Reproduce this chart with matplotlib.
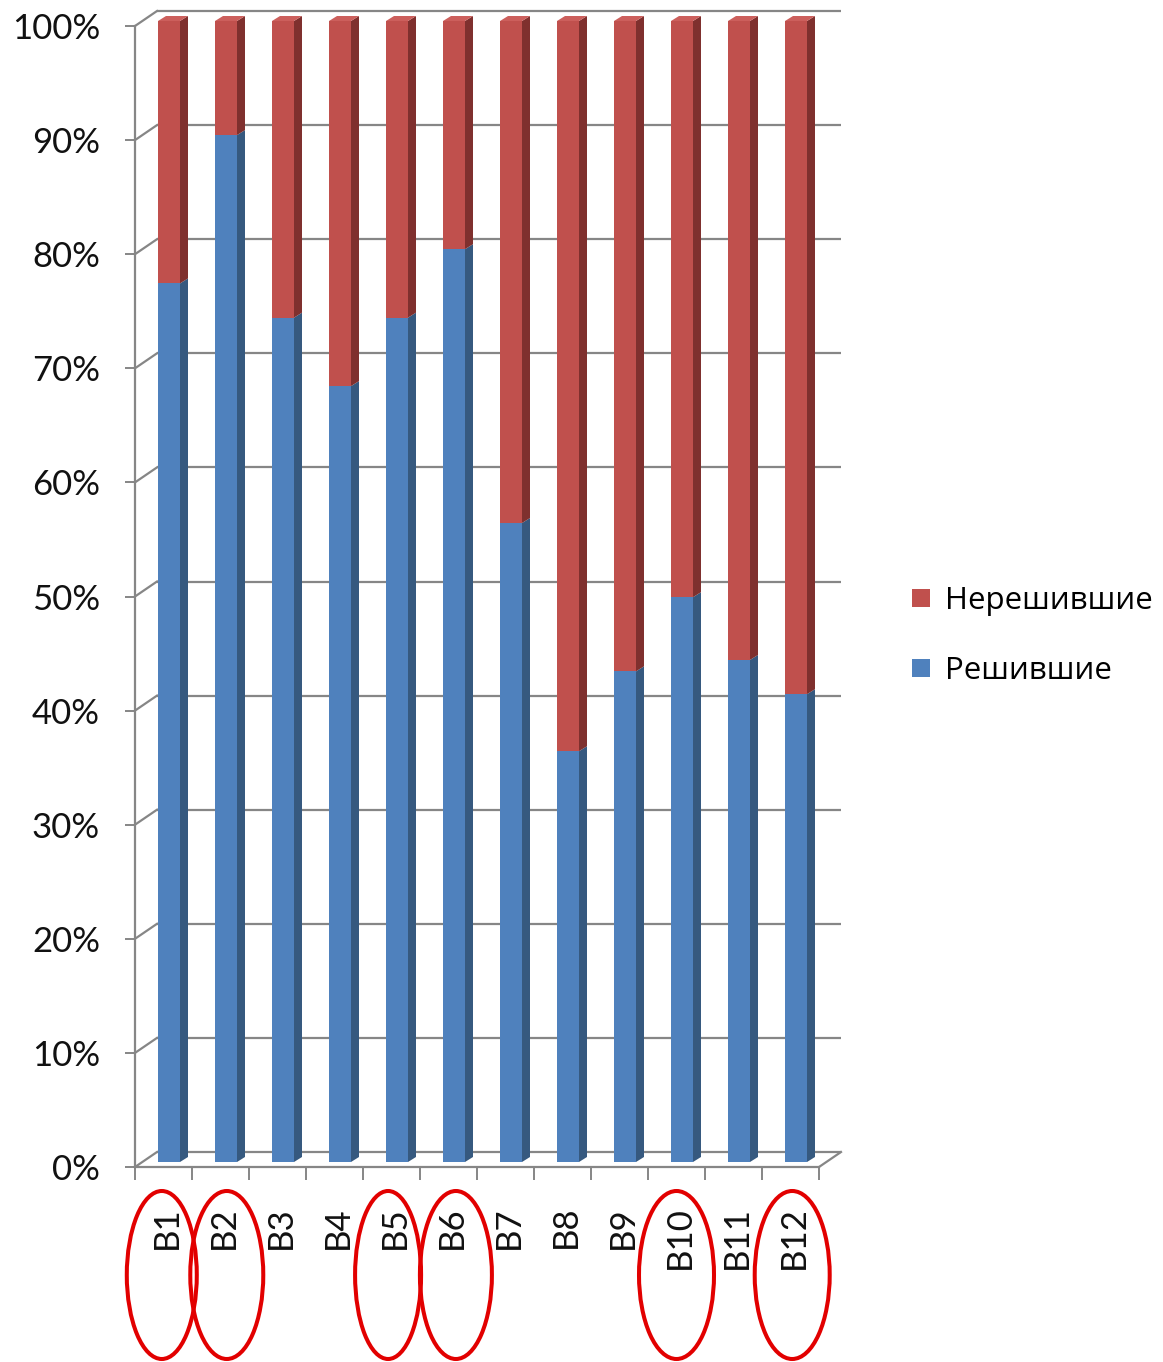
import matplotlib
matplotlib.use("Agg")
import matplotlib.pyplot as plt
from matplotlib.patches import Polygon, Ellipse
from matplotlib.lines import Line2D
from matplotlib.transforms import offset_copy, blended_transform_factory

# ---------------- data ----------------
categories = ["B1", "B2", "B3", "B4", "B5", "B6", "B7", "B8", "B9", "B10", "B11", "B12"]
solved = [77, 90, 74, 68, 74, 80, 56, 36, 43, 49.5, 44, 41]          # Решившие, %
unsolved = [23, 10, 26, 32, 26, 20, 44, 64, 57, 50.5, 56, 59]        # Нерешившие, %
series_labels = ["Решившие", "Нерешившие"]
y_ticks = [0, 10, 20, 30, 40, 50, 60, 70, 80, 90, 100]
y_tick_labels = ["0%", "10%", "20%", "30%", "40%", "50%", "60%", "70%", "80%", "90%", "100%"]
highlighted = ["B1", "B2", "B5", "B6", "B10", "B12"]

# ---------------- style ----------------
W, H, DPI = 1163, 1362, 100
BLUE, BLUE_SIDE = "#4F81BD", "#36597F"
RED, RED_SIDE, RED_TOP = "#C0504D", "#7F302E", "#CC5F5C"
GRID = "#868686"
FONT = ["Lato", "Open Sans", "DejaVu Sans"]
LEG_FONT = ["Open Sans", "DejaVu Sans"]
plt.rcParams["font.family"] = FONT

fig = plt.figure(figsize=(W / DPI, H / DPI), dpi=DPI)
ax_l, ax_r, ax_t, ax_b = 135, 819, 26, 1167
ax = fig.add_axes([ax_l / W, (H - ax_b) / H, (ax_r - ax_l) / W, (ax_b - ax_t) / H])
n = len(categories)
ax.set_xlim(-0.5, n - 0.5)
ax.set_ylim(0, 100)

# pixel -> data conversion
px_x = n / (ax_r - ax_l)
px_y = 100 / (ax_b - ax_t)

# back wall grid (offset in depth)
gdx, gdy = 22, 15
tr_grid = offset_copy(ax.transData, fig=fig, x=gdx, y=gdy, units="dots")
for v in y_ticks:
    ax.plot([-0.5, n - 0.5], [v, v], color=GRID, lw=1.6, transform=tr_grid,
            zorder=1, clip_on=False, solid_capstyle="butt")
    ax.plot([-0.5, -0.5 + gdx * px_x], [v, v + gdy * px_y], color=GRID, lw=1.6,
            zorder=1, clip_on=False)
ax.plot([n - 0.5, n - 0.5 + gdx * px_x], [0, gdy * px_y], color=GRID, lw=1.6,
        zorder=1, clip_on=False)

# bars (front face offset into middle depth)
bdx, bdy = 5.5, 5
sdx, sdy = 8, 5
bw = 22 * px_x
tr_bar = offset_copy(ax.transData, fig=fig, x=bdx, y=bdy, units="dots")
xs = list(range(n))
ax.bar(xs, solved, width=bw, color=BLUE, transform=tr_bar, zorder=3,
       label=series_labels[0], clip_on=False)
ax.bar(xs, unsolved, width=bw, bottom=solved, color=RED, transform=tr_bar, zorder=3,
       label=series_labels[1], clip_on=False)
for x, s, u in zip(xs, solved, unsolved):
    xr = x + bw / 2
    xl = x - bw / 2
    top = s + u
    ax.add_patch(Polygon([(xr, 0), (xr + sdx * px_x, sdy * px_y),
                          (xr + sdx * px_x, s + sdy * px_y), (xr, s)],
                         closed=True, color=BLUE_SIDE, transform=tr_bar, zorder=3,
                         clip_on=False, lw=0))
    ax.add_patch(Polygon([(xr, s), (xr + sdx * px_x, s + sdy * px_y),
                          (xr + sdx * px_x, top + sdy * px_y), (xr, top)],
                         closed=True, color=RED_SIDE, transform=tr_bar, zorder=3,
                         clip_on=False, lw=0))
    ax.add_patch(Polygon([(xl, top), (xl + sdx * px_x, top + sdy * px_y),
                          (xr + sdx * px_x, top + sdy * px_y), (xr, top)],
                         closed=True, color=RED_TOP, transform=tr_bar, zorder=3,
                         clip_on=False, lw=0))

# axes, ticks
for side in ("top", "right"):
    ax.spines[side].set_visible(False)
for side in ("left", "bottom"):
    ax.spines[side].set_color(GRID)
    ax.spines[side].set_linewidth(1.6)
    ax.spines[side].set_zorder(2)
ax.set_yticks(y_ticks)
ax.set_yticklabels(y_tick_labels)
ax.tick_params(axis="y", length=7.2, width=1.4, color=GRID, pad=18,
               labelsize=25, labelcolor="#111111")
ax.set_xticks([i - 0.5 for i in range(n + 1)])
ax.set_xticklabels([])
ax.tick_params(axis="x", which="major", length=9.4, width=1.4, color=GRID)
ax.set_xticks([i + 0.06 for i in xs], minor=True)
ax.set_xticklabels(categories, minor=True, rotation=90)
ax.tick_params(axis="x", which="minor", length=0, pad=28, labelsize=25,
               labelcolor="#111111")
ax.patch.set_visible(False)

# red ellipses around highlighted tasks
ell_dx = {"B1": -0.03, "B2": 0.11, "B5": -0.06, "B6": 0.13, "B10": 0.0, "B12": 0.03}
ell_w = {"B1": 70, "B2": 73, "B5": 66, "B6": 72, "B10": 75, "B12": 75}
tr_ell = blended_transform_factory(ax.transData, ax.transAxes)
for lab in highlighted:
    i = categories.index(lab)
    ax.add_patch(Ellipse((i + ell_dx[lab], -108 / (ax_b - ax_t)), ell_w[lab] * px_x,
                         168 / (ax_b - ax_t), transform=tr_ell, fill=False,
                         edgecolor="#E20000", lw=2.9, clip_on=False, zorder=5))

# legend
handles = [Line2D([], [], marker="s", ls="", markersize=13, color=RED, markeredgewidth=0),
           Line2D([], [], marker="s", ls="", markersize=13, color=BLUE, markeredgewidth=0)]
fig.legend(handles, [series_labels[1], series_labels[0]], loc="center left",
           bbox_to_anchor=(911 / W, 1 - 636 / H), frameon=False, borderpad=0,
           borderaxespad=0, handlelength=0.65, handletextpad=0.45, labelspacing=1.3,
           prop={"family": LEG_FONT, "size": 22.5})

fig.savefig("out.png", dpi=DPI)
